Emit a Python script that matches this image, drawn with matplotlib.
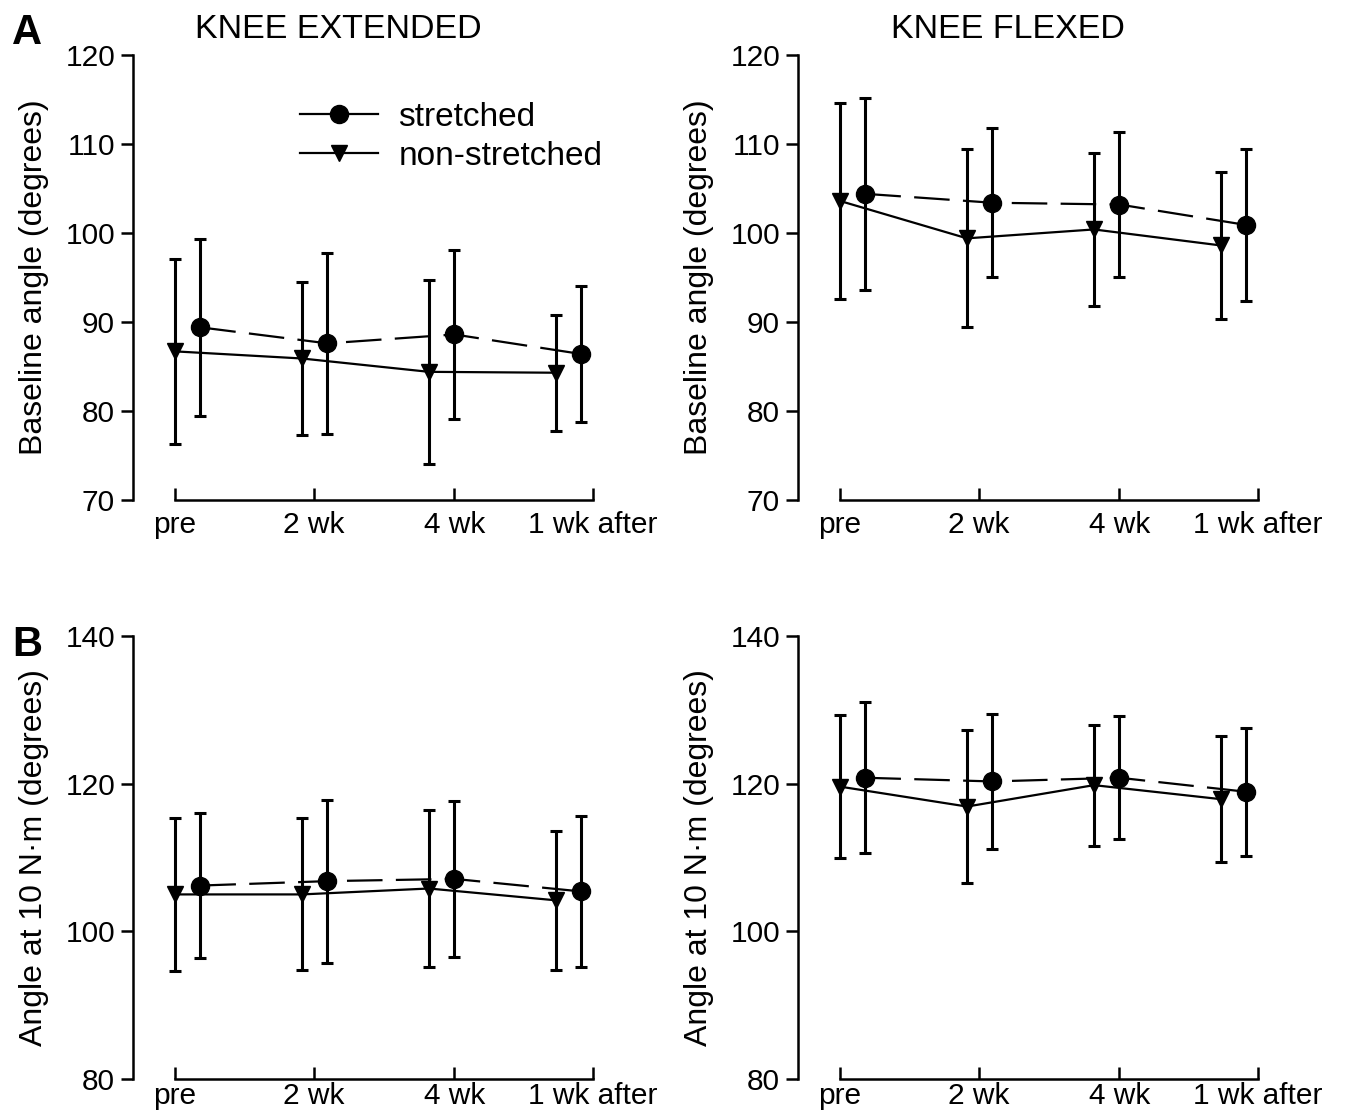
import numpy as np
import matplotlib
matplotlib.use("Agg")
import matplotlib.pyplot as plt
from matplotlib.lines import Line2D

plt.rcParams['font.family'] = ['Liberation Sans', 'DejaVu Sans']

sessions = ['pre', '2 wk', '4 wk', '1 wk after']
tick_pos = [0, 1.095, 2.2, 3.29]

# A, knee extended - baseline angle
ext_base_st = [89.4, 87.6, 88.6, 86.4]
ext_base_st_sd = [9.95, 10.2, 9.5, 7.6]
ext_base_ns = [86.7, 85.9, 84.4, 84.3]
ext_base_ns_sd = [10.4, 8.55, 10.35, 6.5]

# A, knee flexed - baseline angle
flx_base_st = [104.4, 103.4, 103.2, 100.9]
flx_base_st_sd = [10.8, 8.35, 8.15, 8.5]
flx_base_ns = [103.6, 99.4, 100.4, 98.6]
flx_base_ns_sd = [11.05, 10.0, 8.6, 8.25]

# B, knee extended - angle at 10 N.m
ext_10_st = [106.2, 106.8, 107.1, 105.4]
ext_10_st_sd = [9.85, 11.05, 10.6, 10.2]
ext_10_ns = [105.0, 105.0, 105.8, 104.2]
ext_10_ns_sd = [10.35, 10.3, 10.6, 9.45]

# B, knee flexed - angle at 10 N.m
flx_10_st = [120.8, 120.3, 120.8, 118.9]
flx_10_st_sd = [10.2, 9.2, 8.3, 8.7]
flx_10_ns = [119.6, 116.9, 119.8, 117.9]
flx_10_ns_sd = [9.65, 10.4, 8.2, 8.5]

W, H = 1348, 1114
fig = plt.figure(figsize=(W / 100, H / 100), dpi=100)

x_ns = np.arange(4)
x_st = np.arange(4) + 0.2
xlo, xhi = -0.33, 3.45
ax_w = 480

panels = [
    # px of pre tick, top px, bottom px, ylim, yticks, ylabel, xlabel pad, data
    (175, 55, 500, (70, 120), range(70, 121, 10), 'Baseline angle (degrees)', 8,
     ext_base_st, ext_base_st_sd, ext_base_ns, ext_base_ns_sd),
    (840, 55, 500, (70, 120), range(70, 121, 10), 'Baseline angle (degrees)', 8,
     flx_base_st, flx_base_st_sd, flx_base_ns, flx_base_ns_sd),
    (175, 636, 1079, (80, 140), range(80, 141, 20), 'Angle at 10 N\u00b7m (degrees)', 2,
     ext_10_st, ext_10_st_sd, ext_10_ns, ext_10_ns_sd),
    (840, 636, 1079, (80, 140), range(80, 141, 20), 'Angle at 10 N\u00b7m (degrees)', 2,
     flx_10_st, flx_10_st_sd, flx_10_ns, flx_10_ns_sd),
]

axes = []
for pre_px, top, bot, ylim, yticks, ylab, xpad, st, st_sd, ns, ns_sd in panels:
    left = pre_px + xlo * 127
    ax = fig.add_axes([left / W, (H - bot) / H, ax_w / W, (bot - top) / H])
    ax.errorbar(x_ns, ns, yerr=ns_sd, color='black', lw=1.6, ls='-',
                marker='v', ms=12, elinewidth=2.2, capsize=4.5, capthick=2.2)
    ax.errorbar(x_st, st, yerr=st_sd, color='black', lw=1.6, ls=(0, (16, 6)),
                marker='o', ms=13, elinewidth=2.2, capsize=4.5, capthick=2.2)
    ax.set_xlim(xlo, xhi)
    ax.set_ylim(*ylim)
    ax.set_yticks(list(yticks))
    ax.set_xticks(tick_pos)
    ax.set_xticklabels(sessions)
    for s in ['top', 'right']:
        ax.spines[s].set_visible(False)
    ax.spines['left'].set_linewidth(1.8)
    ax.spines['bottom'].set_linewidth(1.8)
    ax.spines['bottom'].set_bounds(tick_pos[0], tick_pos[-1])
    ax.tick_params(axis='y', direction='out', length=9, width=1.8,
                   labelsize=21.5, pad=4)
    ax.tick_params(axis='x', direction='in', length=9, width=1.8,
                   labelsize=21.5, pad=xpad)
    ax.set_ylabel(ylab, fontsize=23, labelpad=12)
    ax.patch.set_alpha(0)
    axes.append(ax)

axes[0].set_title('KNEE EXTENDED', fontsize=24.5, pad=12, x=0.427)
axes[1].set_title('KNEE FLEXED', fontsize=24.5, pad=12, x=0.437)

handles = [
    Line2D([], [], color='black', lw=1.6, marker='o', ms=13),
    Line2D([], [], color='black', lw=1.6, marker='v', ms=12),
]
axes[0].legend(handles, ['stretched', 'non-stretched'], loc='upper left',
               bbox_to_anchor=(0.348, 0.895), frameon=False, fontsize=24,
               handlelength=2.35, handletextpad=0.6, labelspacing=0.25,
               borderpad=0, borderaxespad=0)

fig.text(12 / W, 1 - 44 / H, 'A', fontsize=30, fontweight='bold')
fig.text(12 / W, 1 - 656 / H, 'B', fontsize=30, fontweight='bold')

fig.savefig('out.png', dpi=100)
